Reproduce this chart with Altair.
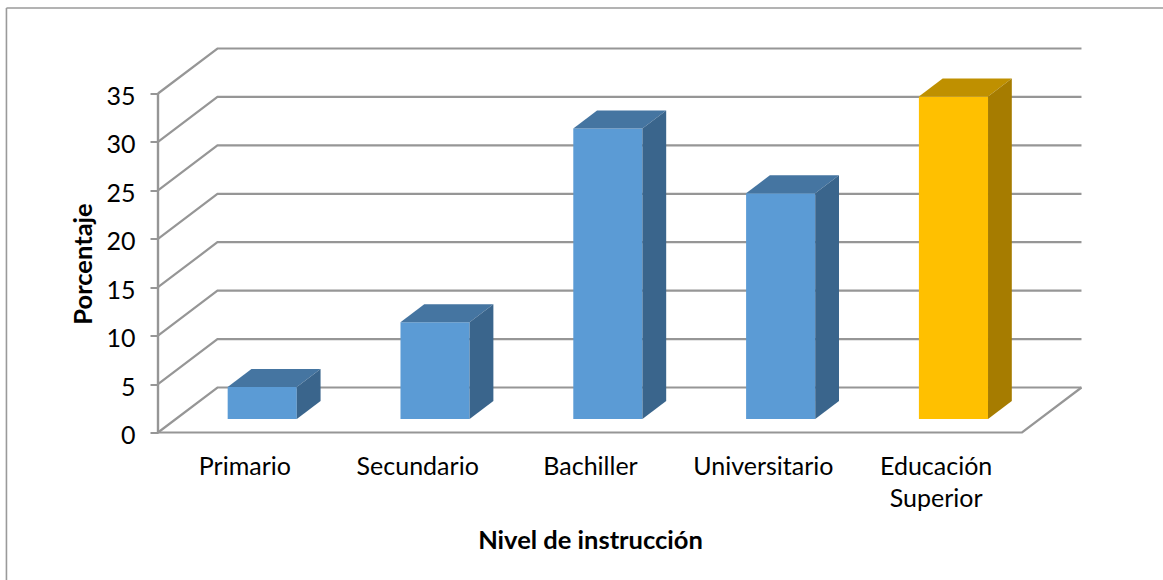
import json
import altair as alt
import pandas as pd

categories = ["Primario", "Secundario", "Bachiller", "Universitario", "Educación\nSuperior"]
percentages = [3.3, 10.0, 30.0, 23.3, 33.3]
front_colors = ["#5B9BD5", "#5B9BD5", "#5B9BD5", "#5B9BD5", "#FFC000"]
top_colors = ["#4575A1", "#4575A1", "#4575A1", "#4575A1", "#BF9000"]
side_colors = ["#3A658C", "#3A658C", "#3A658C", "#3A658C", "#A67C00"]
y_ticks = [0, 5, 10, 15, 20, 25, 30, 35]

FONT = "Lato"
GREY = "#969696"

# Oblique projection: going one full floor depth back shifts a point right and up.
DEPTH_X = 0.344   # in category widths
DEPTH_Y = 4.646   # in percentage points
X_MAX = 5.347
Y_MAX = 39.646
BAR_LEFT, BAR_RIGHT = 0.3, 0.7       # across the category
BAR_NEAR, BAR_FAR = 0.3, 0.7         # along the floor depth

x_scale = alt.Scale(domain=[0, X_MAX], nice=False, zero=False)
y_scale = alt.Scale(domain=[0, Y_MAX], nice=False, zero=False)


def px(cat, depth):
    return cat + depth * DEPTH_X


def py(value, depth):
    return value + depth * DEPTH_Y


# Back wall gridlines, each with its run along the side wall.
grid_rows = []
for v in y_ticks:
    for cat, depth in [(0, 0), (0, 1), (5, 1)]:
        grid_rows.append({"id": f"g{v}", "x": px(cat, depth), "y": py(v, depth), "step": len(grid_rows)})
# Front and right edges of the floor.
for cat, depth in [(0, 0), (5, 0), (5, 1)]:
    grid_rows.append({"id": "floor", "x": px(cat, depth), "y": py(0, depth), "step": len(grid_rows)})
grid = pd.DataFrame(grid_rows)

front_rows, top_rows, side_rows = [], [], []
for i, (val, fc, tc, sc) in enumerate(zip(percentages, front_colors, top_colors, side_colors)):
    left, right = i + BAR_LEFT, i + BAR_RIGHT
    front_rows.append({"x": px(left, BAR_NEAR), "x2": px(right, BAR_NEAR),
                       "y": py(0, BAR_NEAR), "y2": py(val, BAR_NEAR), "fill": fc})
    hi_near, hi_far = py(val, BAR_NEAR), py(val, BAR_FAR)
    # Top face, a parallelogram traced as upper and lower edges.
    for x, low, high in [(px(left, BAR_NEAR), hi_near, hi_near),
                         (px(left, BAR_FAR), hi_near, hi_far),
                         (px(right, BAR_NEAR), hi_near, hi_far),
                         (px(right, BAR_FAR), hi_far, hi_far)]:
        top_rows.append({"bar": i, "x": x, "y": low, "y2": high, "fill": tc})
    # Right-hand side face.
    for depth in (BAR_NEAR, BAR_FAR):
        side_rows.append({"bar": i, "x": px(right, depth), "y": py(0, depth), "y2": py(val, depth), "fill": sc})

front = pd.DataFrame(front_rows)
top = pd.DataFrame(top_rows)
side = pd.DataFrame(side_rows)

label_expr = "split(" + json.dumps(categories) + "[floor(datum.value)], '\\n')"

x_axis = alt.Axis(
    values=[i + 0.5 for i in range(len(categories))], labelExpr=label_expr,
    title="Nivel de instrucción", titleFont=FONT, titleFontSize=25.5, titleFontWeight="bold",
    titleColor="#000000", titleX=432, titleY=108, titleBaseline="middle",
    labelFont=FONT, labelFontSize=25, labelColor="#000000", labelPadding=22,
    labelLineHeight=32, labelOverlap=False, labelFlush=False,
    domain=False, ticks=False, grid=False,
)
y_axis = alt.Axis(
    values=y_ticks, title="Porcentaje", titleFont=FONT, titleFontSize=25.5, titleFontWeight="bold",
    titleColor="#000000", titleX=-75, titleY=215, titleBaseline="middle",
    labelFont=FONT, labelFontSize=25, labelColor="#000000", labelPadding=15, labelOffset=3,
    domain=False, ticks=True, tickColor=GREY, tickSize=8, tickWidth=2, grid=False,
)

X = alt.X("x:Q", scale=x_scale, axis=x_axis)
Y = alt.Y("y:Q", scale=y_scale, axis=y_axis, stack=None)

lines = alt.Chart(grid).mark_line(color=GREY, strokeWidth=2.2, strokeJoin="miter").encode(
    x=X, y=Y, detail="id:N", order="step:Q"
)
wall = alt.Chart(pd.DataFrame({"x": [0], "y": [0], "y2": [35]})).mark_rule(color=GREY, strokeWidth=2.4).encode(
    x=X, y=Y, y2="y2:Q"
)
fronts = alt.Chart(front).mark_rect().encode(
    x=X, x2="x2:Q", y=Y, y2="y2:Q", color=alt.Color("fill:N", scale=None)
)
tops = alt.Chart(top).mark_area(interpolate="linear").encode(
    x=X, y=Y, y2="y2:Q", detail="bar:N", color=alt.Color("fill:N", scale=None)
)
sides = alt.Chart(side).mark_area(interpolate="linear").encode(
    x=X, y=Y, y2="y2:Q", detail="bar:N", color=alt.Color("fill:N", scale=None)
)

# Chart frame: only its top and left edges fall inside the page.
frame_top = alt.Chart(pd.DataFrame({"x": [-0.877], "x2": [5.82], "y": [43.83]})).mark_rule(
    color="#9A9A9A", strokeWidth=1.6
).encode(x=X, x2="x2:Q", y=Y)
frame_left = alt.Chart(pd.DataFrame({"x": [-0.877], "y": [43.83], "y2": [-15.3]})).mark_rule(
    color="#9A9A9A", strokeWidth=1.6
).encode(x=X, y=Y, y2="y2:Q")

chart = alt.layer(frame_top, frame_left, lines, wall, fronts, tops, sides).properties(
    width=924, height=384,
    autosize=alt.AutoSizeParams(type="none"),
    padding={"left": 158, "top": 48.5, "right": 81, "bottom": 147.5},
    background="#FFFFFF",
).configure_view(stroke=None)

chart.save("out.html", embed_options={"renderer": "svg", "actions": False})
